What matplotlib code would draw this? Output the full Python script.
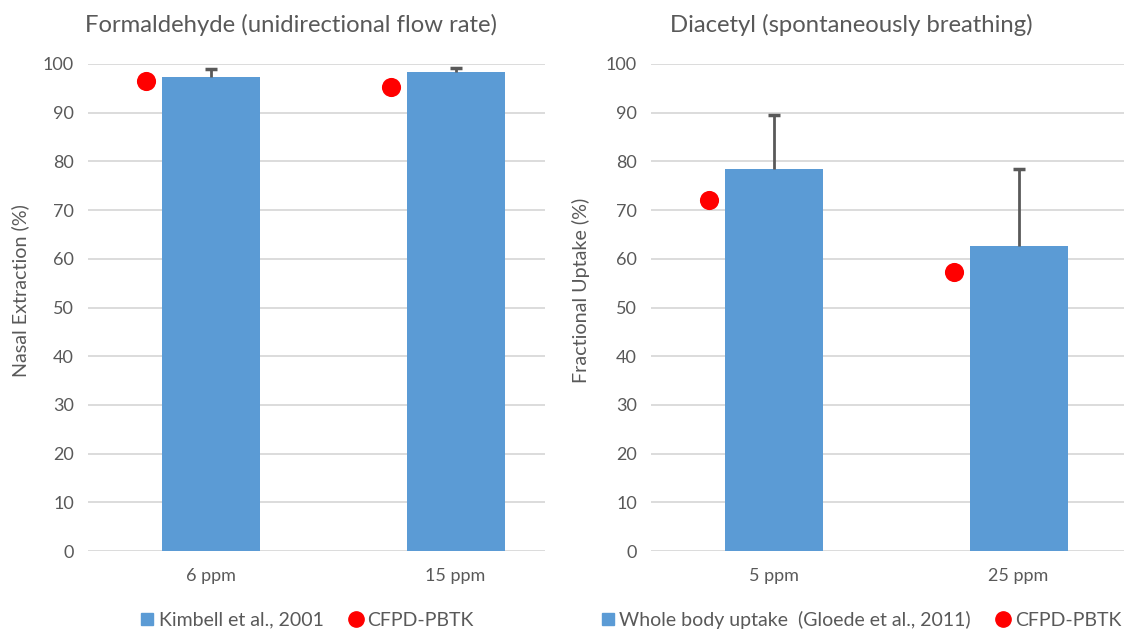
import matplotlib.pyplot as plt
from matplotlib.lines import Line2D

plt.rcParams['font.family'] = ['Lato', 'DejaVu Sans']

# formaldehyde panel
form_cats = ['6 ppm', '15 ppm']
form_exp = [97.3, 98.4]
form_err = [1.7, 0.8]
form_model = [96.5, 95.3]

# diacetyl panel
diac_cats = ['5 ppm', '25 ppm']
diac_exp = [78.4, 62.6]
diac_err = [11.1, 15.8]
diac_model = [72.1, 57.3]

bar_col = '#5B9BD5'
dot_col = '#FF0000'
txt_col = '#595959'
grid_col = '#D9D9D9'


def panel(ax, cats, exp, err, model, ylabel, xmax):
    x = list(range(len(cats)))
    ax.bar(x, exp, width=0.4, color=bar_col, zorder=2)
    eb = ax.errorbar(x, exp, yerr=[[0] * len(err), err], fmt='none', ecolor=txt_col,
                     elinewidth=2, capsize=4, capthick=2.5, zorder=3)
    eb[1][0].set_visible(False)  # no cap on the bar top
    ax.scatter([i - 0.265 for i in x], model, s=190, color=dot_col, zorder=4, linewidths=0)
    ax.set_xlim(-0.5, xmax)
    ax.set_ylim(0, 100)
    ax.set_yticks(range(0, 101, 10))
    ax.set_xticks(x)
    ax.set_xticklabels(cats)
    ax.yaxis.grid(True, color=grid_col, linewidth=1.3, zorder=0)
    for s in ax.spines.values():
        s.set_visible(False)
    ax.tick_params(length=0, labelsize=13, colors=txt_col, pad=10)
    ax.tick_params(axis='x', pad=12)
    ax.set_ylabel(ylabel, fontsize=14.2, color=txt_col)
    ax.yaxis.set_label_coords(-0.129, 0.535)


fig = plt.figure(figsize=(11.24, 6.3), dpi=100)
ax1 = fig.add_axes([88 / 1124, 79 / 630, 457 / 1124, 487 / 630])
ax2 = fig.add_axes([651 / 1124, 79 / 630, 473 / 1124, 487 / 630])

panel(ax1, form_cats, form_exp, form_err, form_model, 'Nasal Extraction (%)', 1.365)
panel(ax2, diac_cats, diac_exp, diac_err, diac_model, 'Fractional Uptake (%)', 1.43)

fig.text(291 / 1124, 1 - 25 / 630, 'Formaldehyde (unidirectional flow rate)',
         ha='center', va='center', fontsize=17.2, color=txt_col)
fig.text(851 / 1124, 1 - 25 / 630, 'Diacetyl (spontaneously breathing)',
         ha='center', va='center', fontsize=17.2, color=txt_col)


def legend(label, cx):
    h = [Line2D([], [], marker='s', color=bar_col, linestyle='none', markersize=8),
         Line2D([], [], marker='o', color=dot_col, linestyle='none', markersize=11)]
    fig.legend(h, [label, 'CFPD-PBTK'], loc='center', ncol=2,
               bbox_to_anchor=(cx / 1124, 1 - 620 / 630), frameon=False,
               handlelength=0.5, handletextpad=0.35, columnspacing=1.4,
               fontsize=14, labelcolor=txt_col)


legend('Kimbell et al., 2001', 308)
legend('Whole body uptake  (Gloede et al., 2011)', 862)

fig.savefig('out.png', dpi=100)
